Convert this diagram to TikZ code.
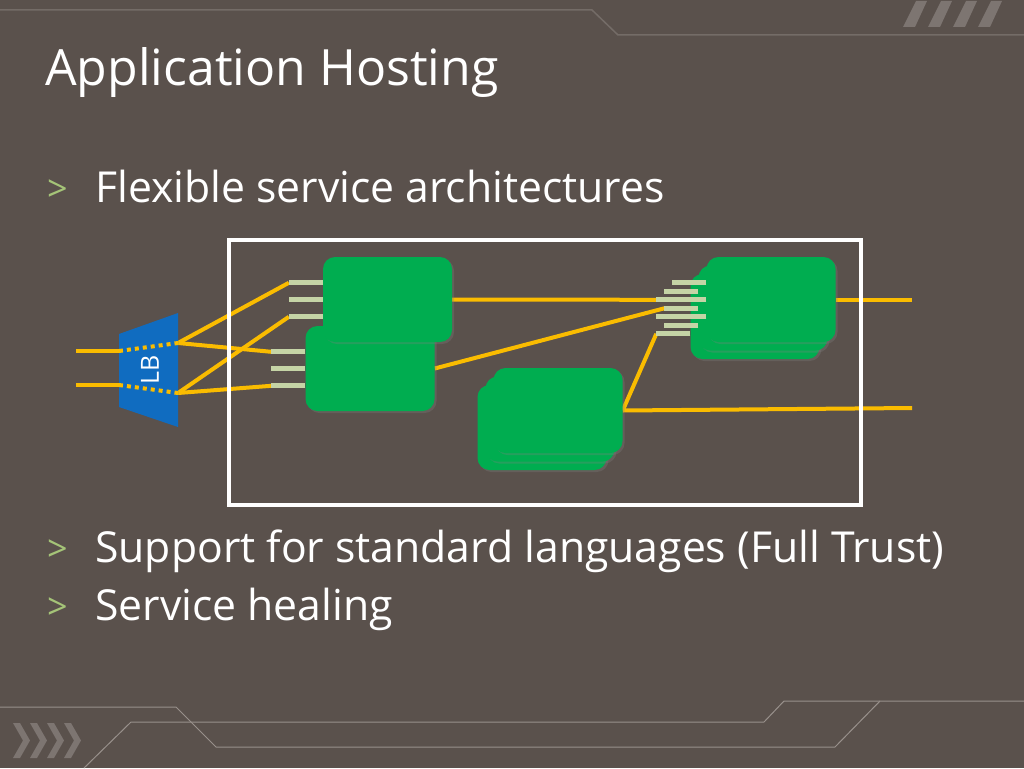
\documentclass[tikz,border=0pt]{standalone}
\usepackage{fontspec}
\setmainfont{Open Sans}
\usetikzlibrary{calc,shadows}
\pgfdeclarelayer{decor}
\pgfdeclarelayer{wires}
\pgfsetlayers{decor,wires,main}
\definecolor{slidebg}{RGB}{90,81,76}
\definecolor{decoline}{RGB}{116,108,103}
\definecolor{decolight}{RGB}{152,144,139}
\definecolor{decofill}{RGB}{125,117,113}
\definecolor{linkyellow}{RGB}{250,188,0}
\definecolor{cardgreen}{RGB}{0,173,80}
\definecolor{portgreen}{RGB}{197,212,166}
\definecolor{lbblue}{RGB}{16,108,192}
\definecolor{bulletgreen}{RGB}{165,196,120}
\tikzset{
  card/.style={rectangle,rounded corners=12pt,fill=cardgreen,minimum width=129pt,minimum height=85pt,inner sep=0pt,
    drop shadow={opacity=0.3,shadow xshift=2pt,shadow yshift=-2pt}},
  port/.style={draw=portgreen,line width=5pt},
  link/.style={draw=linkyellow,line width=4pt},
  hop/.style={link,dash pattern=on 4pt off 4pt},
  heading/.style={anchor=base west,text=white,inner sep=0pt,font=\fontsize{50}{56}\selectfont},
  item/.style={anchor=base west,text=white,inner sep=0pt,font=\fontsize{42.7}{48}\selectfont},
  marker/.style={anchor=base west,text=bulletgreen,inner sep=0pt,font=\fontsize{36}{40}\selectfont},
}
\newcommand{\cardports}[1]{%
  \foreach \k/\dy in {1/26,2/43,3/60}{
    \draw[port] ($(#1.north west)+(0,\dy)$) -- ++(-34,0) coordinate (#1-\k);
  }}
\begin{document}
\begin{tikzpicture}[x=1pt,y=-1pt]
\useasboundingbox (0,0) rectangle (1024,768);
% slide background
\begin{pgfonlayer}{decor}
  \fill[slidebg] (0,0) rectangle (1024,768);
  \draw[decoline,line width=1.5pt] (0,10) -- (592,10) -- (618,35) -- (1024,35);
  \foreach \i in {0,...,3}{
    \fill[decofill] ({903+25*\i},27) -- ++(12,0) -- ++(12,-26) -- ++(-11,0) -- cycle;
  }
  \draw[decolight,line width=1pt] (0,707) -- (176,707) -- (216,747) -- (835,747) -- (880,701) -- (1024,701);
  \draw[decolight,line width=1pt] (84,768) -- (131,722) -- (764,722) -- (784,701) -- (880,701);
  \foreach \i in {0,...,3}{
    \fill[decofill] ({13+17*\i},723) -- ++(7,0) -- ++(10,17.5) -- ++(-10,17.5) -- ++(-7,0) -- ++(10,-17.5) -- cycle;
  }
\end{pgfonlayer}

% texts
\node[heading] (title) at (45,85) {Application Hosting};
\node[marker] (m1) at (47,201) {>};
\node[item] (t1) at (95,202) {Flexible service architectures};
\node[marker] (m2) at (47,561) {>};
\node[item] (t2) at (95,562) {Support for standard languages (Full Trust)};
\node[marker] (m3) at (47,619) {>};
\node[item] (t3) at (95,620) {Service healing};

% load balancer
\fill[lbblue] (119,334) -- (178,313) -- (178,427) -- (119,407) -- cycle;
\node[text=white,rotate=90,font=\fontsize{25}{28}\selectfont] (lb) at (150,370) {LB};
\coordinate (in1) at (76,351);
\coordinate (in2) at (76,385);
\coordinate (lbi1) at (119,351);
\coordinate (lbi2) at (119,385);
\coordinate (lbo1) at (178,343);
\coordinate (lbo2) at (178,393);
\draw[hop] (lbi1) -- (lbo1);
\draw[hop] (lbi2) -- (lbo2);

% roles
\node[card] (b) at (370,368.5) {};
\cardports{b}
\node[card] (a) at (387.5,299.5) {};
\cardports{a}

\node[card] (d3) at (542,427.5) {};
\node[card] (d2) at (550,419) {};
\node[card] (d1) at (558,410.5) {};

\node[card] (c3) at (755,316.5) {};
\cardports{c3}
\node[card] (c2) at (763,308) {};
\cardports{c2}
\node[card] (c1) at (771,299.5) {};
\cardports{c1}

\coordinate (out1) at (912,299.5);
\coordinate (out2) at (912,408);

\begin{pgfonlayer}{wires}
  \draw[link] (in1) -- (lbi1);
  \draw[link] (in2) -- (lbi2);
  \draw[link] (lbo1) -- (a-1);
  \draw[link] (lbo1) -- (b-1);
  \draw[link] (lbo2) -- (a-3);
  \draw[link] (lbo2) -- (b-3);
  \draw[link] (a.east) -- (c3-1);
  \draw[link] (b.east) -- (c2-2);
  \draw[link] (d1.east) -- (c3-3);
  \draw[link] (d1.east) -- (out2);
  \draw[link] (c1.east) -- (out1);
\end{pgfonlayer}

% hosting boundary
\node[draw=white,line width=4pt,minimum width=632pt,minimum height=265pt,inner sep=0pt] (host) at (545,372.5) {};
\end{tikzpicture}
\end{document}
